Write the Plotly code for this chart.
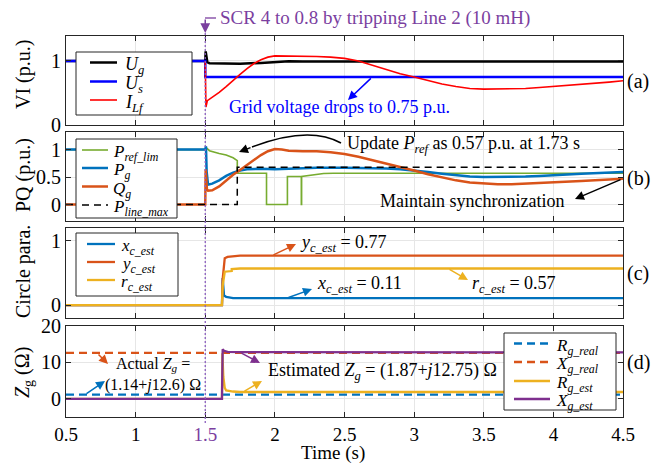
import plotly.graph_objects as go

# ---------------- Data ----------------
# Panel (a): VI (p.u.)
t_ug = [0.5, 1.5, 1.503, 1.507, 1.515, 1.53, 1.6, 1.75, 1.9, 2.0, 2.1, 2.2, 2.5, 3.0, 3.5, 4.0, 4.5]
ug = [1.0, 1.0, 1.15, 1.05, 0.98, 0.965, 0.96, 0.955, 0.97, 0.985, 0.995, 0.99, 0.99, 0.99, 0.99, 0.99, 0.99]
t_us = [0.5, 1.5, 1.5, 4.5]
us = [1.0, 1.0, 0.75, 0.75]
t_ilf = [1.5, 1.505, 1.515, 1.55, 1.6, 1.65, 1.7, 1.75, 1.8, 1.85, 1.9, 1.95, 2.0, 2.1, 2.2, 2.3, 2.4,
         2.5, 2.6, 2.7, 2.8, 2.9, 3.0, 3.1, 3.2, 3.3, 3.4, 3.5, 3.6, 3.7, 3.8, 3.9, 4.0, 4.1, 4.2,
         4.3, 4.4, 4.5]
ilf = [1.0, 0.28, 0.38, 0.43, 0.51, 0.60, 0.70, 0.79, 0.88, 0.96, 1.02, 1.06, 1.08, 1.08, 1.07, 1.07,
       1.06, 1.04, 1.0, 0.93, 0.86, 0.80, 0.75, 0.69, 0.64, 0.60, 0.57, 0.56, 0.56, 0.565, 0.57, 0.585,
       0.60, 0.615, 0.63, 0.65, 0.67, 0.69]

# Panel (b): PQ (p.u.)
t_pref = [0.5, 1.5, 1.505, 1.53, 1.6, 1.65, 1.7, 1.73, 1.73, 1.94, 1.94, 2.09, 2.09, 2.19, 2.19,
          2.192, 2.192, 2.25, 2.3, 2.35, 2.42, 4.5]
pref = [1.0, 1.0, 1.04, 0.98, 0.93, 0.9, 0.85, 0.8, 0.57, 0.57, 0.0, 0.0, 0.51, 0.51, 0.0,
        0.0, 0.51, 0.53, 0.55, 0.565, 0.57, 0.57]
t_pg = [0.5, 1.5, 1.505, 1.51, 1.52, 1.55, 1.6, 1.65, 1.7, 1.75, 1.8, 1.9, 2.0, 2.1, 2.2, 2.3, 2.5,
        2.7, 2.8, 2.9, 3.0, 3.1, 3.2, 3.3, 3.4, 3.5, 3.6, 3.7, 3.8, 3.9, 4.0, 4.2, 4.5]
pg = [1.0, 1.0, 1.06, 0.6, 0.36, 0.38, 0.44, 0.52, 0.58, 0.62, 0.64, 0.65, 0.64, 0.65, 0.66, 0.67, 0.67,
      0.665, 0.655, 0.64, 0.62, 0.59, 0.56, 0.53, 0.51, 0.50, 0.50, 0.505, 0.51, 0.52, 0.535, 0.56, 0.59]
t_qg = [0.5, 1.5, 1.503, 1.507, 1.512, 1.52, 1.55, 1.6, 1.65, 1.7, 1.75, 1.8, 1.85, 1.9, 1.95, 2.0,
        2.05, 2.1, 2.2, 2.3, 2.4, 2.5, 2.6, 2.7, 2.8, 2.9, 3.0, 3.1, 3.2, 3.3, 3.4, 3.5, 3.6, 3.7,
        3.8, 3.9, 4.0, 4.2, 4.5]
qg = [0.0, 0.0, 0.64, 0.35, 0.28, 0.25, 0.26, 0.33, 0.44, 0.54, 0.63, 0.72, 0.80, 0.90, 0.97, 1.01,
      1.0, 0.98, 0.97, 0.97, 0.95, 0.92, 0.87, 0.81, 0.75, 0.68, 0.62, 0.55, 0.49, 0.44, 0.40, 0.38,
      0.37, 0.37, 0.38, 0.39, 0.41, 0.43, 0.47]
t_plmax = [0.5, 1.73, 1.73, 4.5]
plmax = [0.0, 0.0, 0.68, 0.68]

# Panel (c): circle parameters
t_xc = [0.5, 1.62, 1.625, 1.635, 1.65, 1.7, 1.75, 4.5]
xc = [0.0, 0.0, 0.42, 0.15, 0.13, 0.11, 0.11, 0.11]
t_yc = [0.5, 1.62, 1.625, 1.64, 1.66, 1.75, 4.5]
yc = [0.0, 0.0, 0.40, 0.73, 0.75, 0.77, 0.77]
t_rc = [0.5, 1.62, 1.625, 1.64, 1.69, 1.69, 1.75, 4.5]
rc = [0.0, 0.0, 0.30, 0.52, 0.53, 0.56, 0.57, 0.57]

# Panel (d): Zg (Ohm)
t_real = [0.5, 4.5]
rg_real = [1.14, 1.14]
xg_real = [12.6, 12.6]
t_rest = [0.5, 1.62, 1.623, 1.63, 1.64, 1.65, 1.7, 1.75, 4.5]
rg_est = [0.0, 0.0, 12.5, 6.0, 3.0, 2.3, 2.0, 1.87, 1.87]
t_xest = [0.5, 1.62, 1.625, 1.635, 1.66, 1.75, 4.5]
xg_est = [0.0, 0.0, 13.6, 13.2, 12.9, 12.8, 12.75]

x_ticks = [0.5, 1, 1.5, 2, 2.5, 3, 3.5, 4, 4.5]
x_ticktext = ["0.5", "1", '<span style="color:#7B3F9F">1.5</span>', "2", "2.5", "3", "3.5", "4", "4.5"]

# ---------------- Style ----------------
FONT = "Times New Roman, Liberation Serif, serif"
PURPLE = "#7E2F8E"
PURP_T = "#7B3F9F"
BLUE = "#0072BD"
ORANGE = "#D95319"
YELLOW = "#EDB120"
GREEN = "#77AC30"
AXC = "#262626"
GRID = "#e6e6e6"

fig = go.Figure()

W, H = 653, 464
ML, MR, MT, MB = 66, 30, 36, 47
PW, PH = W - ML - MR, H - MT - MB


def py2paper(py):
    return (H - MB - py) / PH


def px2paper(px):
    return (px - ML) / PW


def tx(px):
    return 0.5 + (px - ML) * 4.0 / PW


def ax_names(row):
    return ("x" if row == 1 else f"x{row}", "y" if row == 1 else f"y{row}")


def sub(a, b):
    return f"<i>{a}</i><sub><i>{b}</i></sub>"


legend_entries = {1: [], 2: [], 3: [], 4: []}


def add(x, y, name, color, width, row, dash=None):
    xa, ya = ax_names(row)
    fig.add_trace(go.Scatter(x=x, y=y, name=name, mode="lines",
                             line=dict(color=color, width=width, dash=dash),
                             xaxis=xa, yaxis=ya, showlegend=False))
    legend_entries[row].append((name, color, width, dash))


add(t_ug, ug, sub("U", "g"), "black", 2.5, 1)
add(t_us, us, sub("U", "s"), "#0000FF", 2.5, 1)
add(t_ilf, ilf, sub("I", "Lf"), "#FF0000", 1.6, 1)

add(t_pref, pref, sub("P", "ref_lim"), GREEN, 1.6, 2)
add(t_pg, pg, sub("P", "g"), BLUE, 2.5, 2)
add(t_qg, qg, sub("Q", "g"), ORANGE, 2.5, 2)
add(t_plmax, plmax, sub("P", "line_max"), "black", 1.5, 2, dash="7px,5px")

add(t_xc, xc, sub("x", "c_est"), BLUE, 2.3, 3)
add(t_yc, yc, sub("y", "c_est"), ORANGE, 2.3, 3)
add(t_rc, rc, sub("r", "c_est"), YELLOW, 2.3, 3)

add(t_real, rg_real, sub("R", "g_real"), BLUE, 2.3, 4, dash="8px,5px")
add(t_real, xg_real, sub("X", "g_real"), ORANGE, 2.3, 4, dash="8px,5px")
add(t_rest, rg_est, sub("R", "g_est"), YELLOW, 2.3, 4)
add(t_xest, xg_est, sub("X", "g_est"), PURPLE, 2.3, 4)

# ---------------- Layout ----------------
domains = [(py2paper(125), py2paper(36)), (py2paper(221), py2paper(132)),
           (py2paper(318), py2paper(228)), (py2paper(417), py2paper(326))]
yranges = [[0, 1.39], [-0.3, 1.32], [-0.2, 1.2], [-5, 20]]
yticks = [[0, 1], [0, 0.5, 1], [0, 1], [0, 10, 20]]

layout = dict(width=W, height=H, margin=dict(l=ML, r=MR, t=MT, b=MB),
              paper_bgcolor="white", plot_bgcolor="white", showlegend=False,
              font=dict(family=FONT, size=17, color="black"))

for i in range(4):
    row = i + 1
    xk = "xaxis" if row == 1 else f"xaxis{row}"
    yk = "yaxis" if row == 1 else f"yaxis{row}"
    xa, ya = ax_names(row)
    layout[xk] = dict(domain=[0, 1], range=[0.5, 4.5], anchor=ya, tickvals=x_ticks,
                      ticktext=x_ticktext, showticklabels=(row == 4), ticks="inside",
                      ticklen=5, tickcolor=AXC, showline=True, linecolor=AXC, linewidth=1,
                      mirror="ticks", showgrid=True, gridcolor=GRID, zeroline=False,
                      tickfont=dict(size=19, family=FONT, color="black"))
    layout[yk] = dict(domain=list(domains[i]), range=yranges[i], anchor=xa, tickvals=yticks[i],
                      ticks="inside", ticklen=5, tickcolor=AXC, showline=True, linecolor=AXC,
                      linewidth=1, mirror="ticks", showgrid=True, gridcolor=GRID, zeroline=False,
                      tickfont=dict(size=20, family=FONT, color="black"))
fig.update_layout(**layout)


# ---------------- Legends (drawn boxes) ----------------
def draw_legend(row, box, line_x, text_x, line_ys, size=17):
    x0, y0, x1, y1 = box
    fig.add_shape(type="rect", xref="paper", yref="paper", x0=px2paper(x0), x1=px2paper(x1),
                  y0=py2paper(y1), y1=py2paper(y0), fillcolor="white",
                  line=dict(color=AXC, width=1), layer="above")
    for (name, color, width, dash), ly in zip(legend_entries[row], line_ys):
        fig.add_shape(type="line", xref="paper", yref="paper", x0=px2paper(line_x[0]),
                      x1=px2paper(line_x[1]), y0=py2paper(ly), y1=py2paper(ly),
                      line=dict(color=color, width=width, dash=dash), layer="above")
        fig.add_annotation(x=px2paper(text_x), y=py2paper(ly + 3), xref="paper", yref="paper",
                           text=name, showarrow=False, xanchor="left", yanchor="middle",
                           font=dict(size=size, family=FONT))


draw_legend(1, (76, 52, 192, 115), (90, 117), 123, [62.5, 81.5, 100], size=18)
draw_legend(2, (76, 139, 177, 218), (82, 108), 111, [150, 168, 186.5, 205])
draw_legend(3, (76, 233, 178, 296), (87, 115), 119, [244, 262, 280])
draw_legend(4, (504, 333, 616, 410), (514, 550), 554, [343.5, 362, 381, 399])


def arrow(row, head, tail, color, width=1.5, size=1.2):
    xa, ya = ax_names(row)
    fig.add_annotation(x=head[0], y=head[1], ax=tail[0], ay=tail[1], xref=xa, yref=ya,
                       axref=xa, ayref=ya, showarrow=True, arrowhead=2, arrowsize=size,
                       arrowwidth=width, arrowcolor=color, text="")


def label(row, x, y, text, color="black", size=18, xanchor="left"):
    xa, ya = ax_names(row)
    fig.add_annotation(x=x, y=y, xref=xa, yref=ya, text=text, showarrow=False,
                       font=dict(color=color, size=size, family=FONT), xanchor=xanchor,
                       yanchor="middle")


# Panel (a) annotations
label(1, 2.464, 0.28, "Grid voltage drops to 0.75 p.u.", color="#0000FF", xanchor="center")
arrow(1, (2.525, 0.39), (2.70, 0.75), "#0000FF")

# Panel (b) annotations
label(2, tx(345), 1.10, "Update <i>P</i><sub><i>ref</i></sub> as 0.57 p.u. at 1.73 s")
fig.add_shape(type="path", xref="x2", yref="y2",
              path=f"M {tx(341)},1.12 Q {tx(309)},1.447 {tx(252)},1.047",
              line=dict(color="black", width=1.5))
arrow(2, (tx(239), 0.956), (tx(252), 1.047), "black")
label(2, 3.419, 0.064, "Maintain synchronization", xanchor="center")
arrow(2, (tx(575), 0.10), (tx(622), 0.465), "black")

# Panel (c) annotations
label(3, tx(298), 0.96, sub("y", "c_est") + " = 0.77")
arrow(3, (tx(296), 0.95), (tx(272), 0.77), ORANGE)
label(3, tx(315), 0.32, sub("x", "c_est") + " = 0.11")
arrow(3, (tx(312), 0.25), (tx(287), 0.11), BLUE)
label(3, tx(470), 0.32, sub("r", "c_est") + " = 0.57")
arrow(3, (tx(468), 0.39), (tx(448), 0.57), YELLOW)

# Panel (d) annotations
label(4, tx(153), 9.4, "Actual <i>Z</i><sub><i>g</i></sub> =", xanchor="center", size=16)
label(4, tx(153), 3.9, "(1.14+<i>j</i>12.6) Ω", xanchor="center", size=16)
arrow(4, (tx(108), 9.56), (tx(97), 12.6), ORANGE)
arrow(4, (tx(105), 4.89), (tx(85), 1.14), BLUE)
label(4, tx(382), 7.5, "Estimated <i>Z</i><sub><i>g</i></sub> = (1.87+<i>j</i>12.75) Ω", xanchor="center")
arrow(4, (tx(260), 9.84), (tx(240), 12.75), PURPLE)
arrow(4, (tx(262), 4.89), (tx(243), 1.87), YELLOW)

# Event marker at t = 1.5 s
fig.add_shape(type="line", xref="x4", yref="paper", x0=1.5, x1=1.5, y0=py2paper(423),
              y1=py2paper(33), line=dict(color="#8B5FBF", width=1.3, dash="2px,2px"))
fig.add_shape(type="line", xref="paper", yref="paper", x0=px2paper(205), x1=px2paper(216),
              y0=py2paper(18), y1=py2paper(18), line=dict(color=PURP_T, width=1.3))
fig.add_annotation(x=1.5, y=py2paper(33), xref="x4", yref="paper", ax=0, ay=-15,
                   showarrow=True, arrowhead=2, arrowsize=1.3, arrowwidth=1.5,
                   arrowcolor=PURP_T, text="")
fig.add_annotation(x=px2paper(218), y=py2paper(18), xref="paper", yref="paper",
                   text="SCR 4 to 0.8 by tripping Line 2 (10 mH)", showarrow=False,
                   xanchor="left", yanchor="middle", font=dict(color=PURP_T, size=19, family=FONT))

# Panel tags
for tag, py in [("(a)", 81), ("(b)", 178), ("(c)", 273), ("(d)", 362)]:
    fig.add_annotation(x=px2paper(625), y=py2paper(py), xref="paper", yref="paper", text=tag,
                       showarrow=False, xanchor="left", yanchor="middle",
                       font=dict(size=20, family=FONT))

# Axis titles
for txt, py in [("VI (p.u.)", 75), ("PQ (p.u.)", 175), ("Circle para.", 272),
                ("<i>Z</i><sub>g</sub> (Ω)", 373)]:
    fig.add_annotation(x=px2paper(23), y=py2paper(py), xref="paper", yref="paper", text=txt,
                       showarrow=False, textangle=-90, xanchor="center", yanchor="middle",
                       font=dict(size=20, family=FONT))
fig.add_annotation(x=px2paper(333), y=py2paper(453), xref="paper", yref="paper", text="Time (s)",
                   showarrow=False, xanchor="center", yanchor="middle", font=dict(size=19, family=FONT))

fig.write_html("out.html")
